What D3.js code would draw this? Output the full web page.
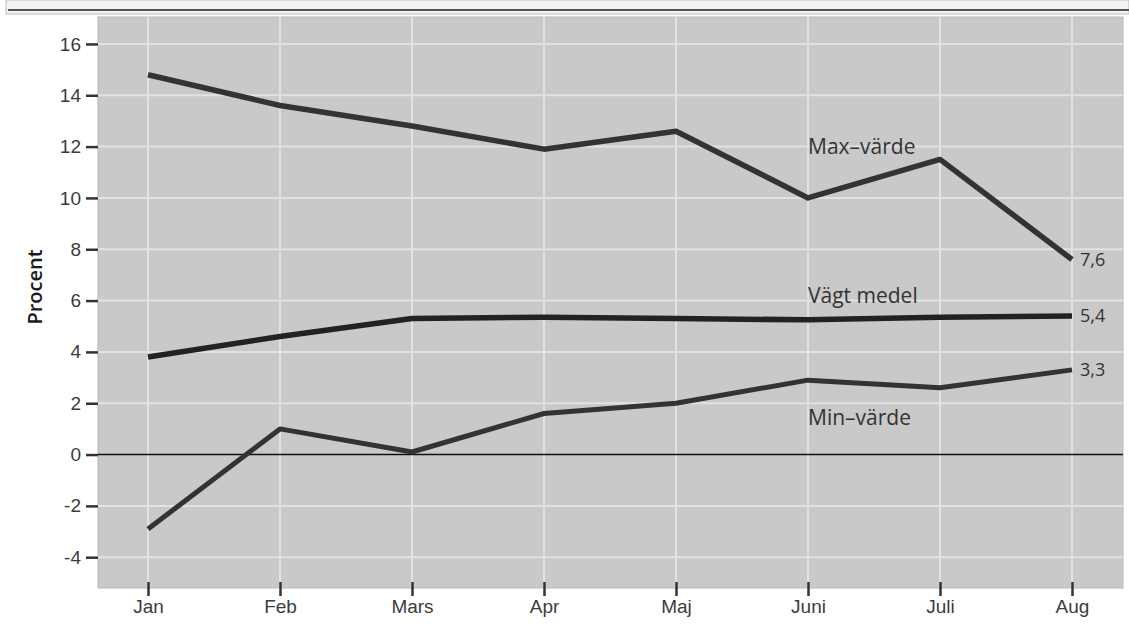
<!DOCTYPE html>
<html>
<head>
<meta charset="utf-8">
<script src="https://cdn.jsdelivr.net/npm/d3@7"></script>
<style>
  body { margin: 0; background: #fff; }
  svg { display: block; font-family: "Open Sans", "Noto Sans", sans-serif; }
</style>
</head>
<body>
<svg width="1129" height="625"></svg>
<script>
// Data
const months = ["Jan", "Feb", "Mars", "Apr", "Maj", "Juni", "Juli", "Aug"];
const maxValues = [14.8, 13.6, 12.8, 11.9, 12.6, 10.0, 11.5, 7.6];
const meanValues = [3.8, 4.6, 5.3, 5.35, 5.3, 5.25, 5.35, 5.4];
const minValues = [-2.9, 1.0, 0.1, 1.6, 2.0, 2.9, 2.6, 3.3];
const yTicks = [16, 14, 12, 10, 8, 6, 4, 2, 0, -2, -4];
const seriesLabels = ["Max–värde", "Vägt medel", "Min–värde"];
const endLabels = ["7,6", "5,4", "3,3"];

(function(){
    const svg = d3.select("svg");
    const plot = { left: 98, right: 1123, top: 17, bottom: 588 };

    // top strip (cut-off header of the original figure)
    svg.append("rect").attr("x", 6).attr("y", 0).attr("width", 1123).attr("height", 14)
        .attr("fill", "#f4f4f4").attr("stroke", "#bbb");
    svg.append("line").attr("x1", 8).attr("x2", 1129).attr("y1", 10).attr("y2", 10)
        .attr("stroke", "#555").attr("stroke-width", 2);

    const x = d3.scalePoint()
        .domain(months)
        .range([148, 1072]);

    const y = d3.scaleLinear()
        .domain([-5.2, 17.05])
        .range([plot.bottom, plot.top]);

    // background
    svg.append("rect")
        .attr("x", plot.left).attr("y", plot.top)
        .attr("width", plot.right - plot.left).attr("height", plot.bottom - plot.top)
        .attr("fill", "#c9c9c9")
        .attr("stroke", "#b8b8b8");

    // grid
    const grid = svg.append("g").attr("stroke", "#e2e2e2").attr("stroke-width", 2);
    grid.selectAll(".hg").data(yTicks.filter(d => d !== 0)).enter().append("line")
        .attr("x1", plot.left).attr("x2", plot.right)
        .attr("y1", d => y(d)).attr("y2", d => y(d));
    grid.selectAll(".vg").data(months).enter().append("line")
        .attr("x1", d => x(d)).attr("x2", d => x(d))
        .attr("y1", plot.top).attr("y2", plot.bottom);

    // y axis
    const yAxis = svg.append("g")
        .attr("transform", `translate(${plot.left},0)`)
        .call(d3.axisLeft(y).tickValues(yTicks).tickSize(12).tickPadding(5)
            .tickFormat(d => d < 0 ? "-" + Math.abs(d) : d));
    yAxis.select(".domain").remove();
    yAxis.selectAll("line").attr("stroke", "#333").attr("stroke-width", 2.5);
    yAxis.selectAll("text").attr("fill", "#3c3c3c").style("font-size", "19px");

    // x axis
    const xAxis = svg.append("g")
        .attr("transform", `translate(0,${plot.bottom - 6})`)
        .call(d3.axisBottom(x).tickSize(14).tickPadding(4));
    xAxis.select(".domain").remove();
    xAxis.selectAll("line").attr("stroke", "#333").attr("stroke-width", 2.5);
    xAxis.selectAll("text").attr("fill", "#3c3c3c").style("font-size", "19px");

    // y axis title
    svg.append("text")
        .attr("transform", `translate(42,287) rotate(-90)`)
        .attr("text-anchor", "middle")
        .attr("fill", "#1a1a1a")
        .style("font-size", "20px")
        .style("font-weight", 600)
        .text("Procent");

    // zero line
    svg.append("line")
        .attr("x1", plot.left).attr("x2", plot.right)
        .attr("y1", y(0)).attr("y2", y(0))
        .attr("stroke", "#111").attr("stroke-width", 1.5);

    const line = d3.line().x((d, i) => x(months[i])).y(d => y(d));
    const series = [maxValues, meanValues, minValues];
    const widths = [5.5, 5.5, 5];

    svg.selectAll(".series").data(series).enter().append("path")
        .attr("d", d => line(d))
        .attr("fill", "none")
        .attr("stroke", (d, i) => i === 1 ? "#222" : "#333")
        .attr("stroke-width", (d, i) => widths[i])
        .attr("stroke-linejoin", "round");

    // series names
    const nameY = [11.7, 5.9, 1.15];
    svg.selectAll(".name").data(seriesLabels).enter().append("text")
        .attr("x", x("Juni"))
        .attr("y", (d, i) => y(nameY[i]))
        .attr("fill", "#333")
        .style("font-size", "21px")
        .text(d => d);

    // end values
    svg.selectAll(".endv").data(series).enter().append("text")
        .attr("x", x("Aug") + 8)
        .attr("y", d => y(d[d.length - 1]) + 6)
        .attr("fill", "#333")
        .style("font-size", "18px")
        .text((d, i) => endLabels[i]);
})();
</script>
</body>
</html>
